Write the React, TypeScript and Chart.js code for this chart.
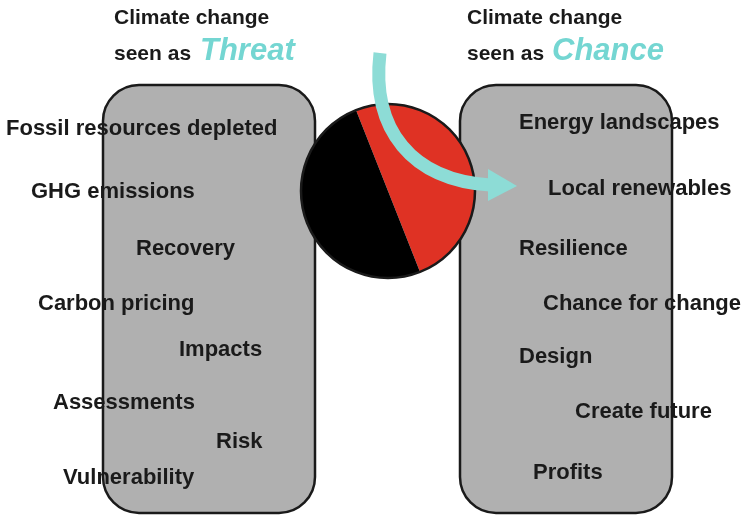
import React, { useEffect, useRef } from "react";
import { Chart, registerables } from "chart.js";

Chart.register(...registerables);

// ---- data ----
const sliceLabels = ["Chance", "Threat"];
const sliceValues = [50, 50];
const sliceColors = ["#df3224", "#000000"];

const threatTerms = [
  "Fossil resources depleted",
  "GHG emissions",
  "Recovery",
  "Carbon pricing",
  "Impacts",
  "Assessments",
  "Risk",
  "Vulnerability",
];
const chanceTerms = [
  "Energy landscapes",
  "Local renewables",
  "Resilience",
  "Chance for change",
  "Design",
  "Create future",
  "Profits",
];
const titleLine1 = "Climate change";
const titleLine2 = "seen as";
const titleWords = ["Threat", "Chance"];

// ---- layout (positions, separate from data) ----
const threatX = [6, 31, 136, 38, 179, 53, 216, 63];
const threatY = [135, 197.5, 255, 310, 355.5, 409, 447.5, 484];
const chanceX = [519, 548, 519, 543, 519, 575, 533];
const chanceY = [129, 195, 255, 310, 362.5, 417.5, 479];

const TEXT = "#1a1a1a";
const TEAL = "#74d6d2";
const ARROW = "#8ddcd6";
const FONT = "'Liberation Sans', Arial, Helvetica, sans-serif";

function roundRect(ctx: CanvasRenderingContext2D, x: number, y: number, w: number, h: number, r: number) {
  ctx.beginPath();
  ctx.moveTo(x + r, y);
  ctx.lineTo(x + w - r, y);
  ctx.arcTo(x + w, y, x + w, y + r, r);
  ctx.lineTo(x + w, y + h - r);
  ctx.arcTo(x + w, y + h, x + w - r, y + h, r);
  ctx.lineTo(x + r, y + h);
  ctx.arcTo(x, y + h, x, y + h - r, r);
  ctx.lineTo(x, y + r);
  ctx.arcTo(x, y, x + r, y, r);
  ctx.closePath();
}

const diagramPlugin = {
  id: "diagram",
  beforeDatasetsDraw(chart: any) {
    const ctx = chart.ctx as CanvasRenderingContext2D;
    ctx.save();
    ctx.fillStyle = "#b0b0b0";
    ctx.strokeStyle = "#1a1a1a";
    ctx.lineWidth = 2.5;
    roundRect(ctx, 103, 85, 212, 428, 36);
    ctx.fill();
    ctx.stroke();
    roundRect(ctx, 460, 85, 212, 428, 36);
    ctx.fill();
    ctx.stroke();
    ctx.restore();
  },
  afterDatasetsDraw(chart: any) {
    const ctx = chart.ctx as CanvasRenderingContext2D;
    const arc = chart.getDatasetMeta(0).data[0] as any;
    ctx.save();
    // circle outline
    ctx.beginPath();
    ctx.arc(arc.x, arc.y, arc.outerRadius, 0, Math.PI * 2);
    ctx.strokeStyle = "#1a1a1a";
    ctx.lineWidth = 2.5;
    ctx.stroke();

    // curved arrow
    ctx.beginPath();
    ctx.moveTo(380, 53);
    ctx.bezierCurveTo(371, 130, 412, 180, 490, 185);
    ctx.strokeStyle = ARROW;
    ctx.lineWidth = 13;
    ctx.lineCap = "butt";
    ctx.stroke();
    ctx.beginPath();
    ctx.moveTo(488, 169);
    ctx.lineTo(517, 186);
    ctx.lineTo(488, 201);
    ctx.closePath();
    ctx.fillStyle = ARROW;
    ctx.fill();

    // labels
    ctx.fillStyle = TEXT;
    ctx.textBaseline = "alphabetic";
    ctx.textAlign = "left";
    ctx.font = `bold 22px ${FONT}`;
    threatTerms.forEach((t, i) => ctx.fillText(t, threatX[i], threatY[i]));
    chanceTerms.forEach((t, i) => ctx.fillText(t, chanceX[i], chanceY[i]));

    // titles
    const titleX = [114, 467];
    const wordX = [200, 552];
    titleX.forEach((x, i) => {
      ctx.fillStyle = TEXT;
      ctx.font = `bold 21px ${FONT}`;
      ctx.fillText(titleLine1, x, 23.5);
      ctx.fillText(titleLine2, x, 59.5);
      ctx.fillStyle = TEAL;
      ctx.font = `italic bold 31px ${FONT}`;
      ctx.fillText(titleWords[i], wordX[i], 60);
    });
    ctx.restore();
  },
};

export default function App() {
  const ref = useRef<HTMLCanvasElement>(null);
  useEffect(() => {
    if (!ref.current) return;
    const chart = new Chart(ref.current, {
      type: "pie",
      data: {
        labels: sliceLabels,
        datasets: [
          {
            data: sliceValues,
            backgroundColor: sliceColors,
            borderWidth: 0,
          },
        ],
      },
      options: {
        responsive: false,
        animation: false,
        rotation: -21.6,
        radius: 87,
        layout: { padding: { left: 32, right: 0, top: 0, bottom: 135 } },
        plugins: {
          legend: { display: false },
          tooltip: { enabled: false },
        },
      } as any,
      plugins: [diagramPlugin],
    });
    return () => chart.destroy();
  }, []);
  return (
    <div style={{ position: "absolute", left: 0, top: 0, width: 744, height: 517, background: "#fff" }}>
      <canvas ref={ref} width={744} height={517} />
    </div>
  );
}
